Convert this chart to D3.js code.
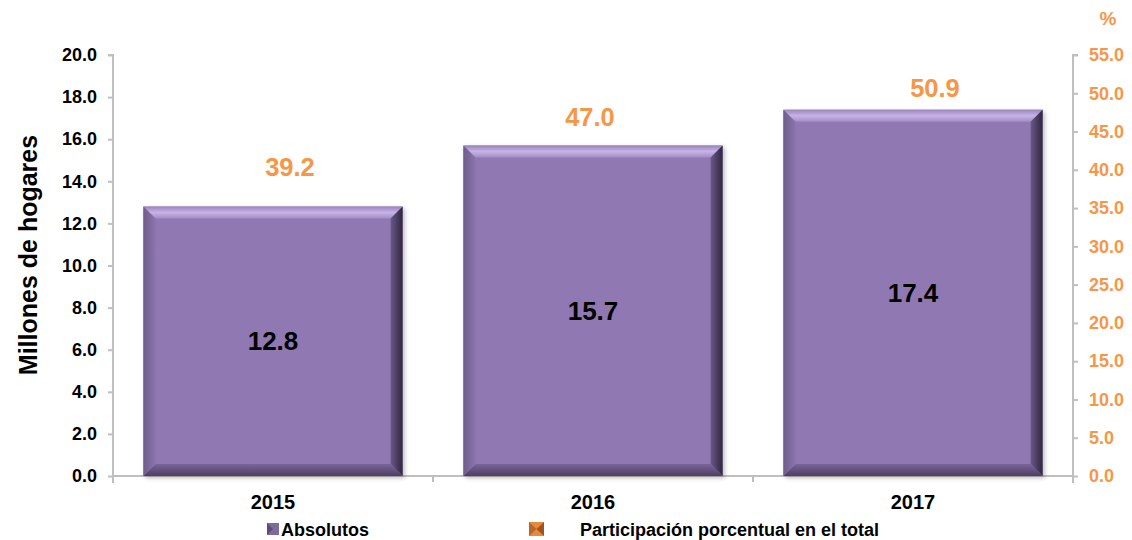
<!DOCTYPE html>
<html><head><meta charset="utf-8">
<script src="https://cdn.jsdelivr.net/npm/d3@7"></script>
<style>body{margin:0;background:#fff;} svg{display:block;font-family:Arial,"Liberation Sans",sans-serif;}</style>
</head><body>
<svg id="c" width="1132" height="540"></svg>
<script>
const years = ["2015","2016","2017"];
const absolutos = [12.8, 15.7, 17.4];
const participacion = [39.2, 47.0, 50.9];
const leftTicks = [0,2,4,6,8,10,12,14,16,18,20];
const rightTicks = [0,5,10,15,20,25,30,35,40,45,50,55];
// label nudges (layout only)
const pctLabelDx = [17, -3, 22];
const pctLabelDy = [0, 10, 11];

const svg = d3.select("#c");
const L = 113, R = 1073, T = 55, B = 476;
const orange = "#F79646";
const FF = "Arial,'Liberation Sans',sans-serif";
const x = d3.scaleBand().domain(years).range([L, R]).paddingInner(0.19).paddingOuter(0.095);
const xb = d3.scaleBand().domain(years).range([L, R]);
const y = d3.scaleLinear().domain([0, 20]).range([B, T]);
const y2 = d3.scaleLinear().domain([0, 55]).range([B, T]);

const defs = svg.append("defs");
const gR = defs.append("linearGradient").attr("id","gr").attr("x1","0").attr("x2","1");
gR.append("stop").attr("offset","0").attr("stop-color","#6c5888");
gR.append("stop").attr("offset","1").attr("stop-color","#2f2540");
const gT = defs.append("linearGradient").attr("id","gt").attr("x1","0").attr("x2","0").attr("y1","0").attr("y2","1");
gT.append("stop").attr("offset","0").attr("stop-color","#9a84bd");
gT.append("stop").attr("offset","0.5").attr("stop-color","#c7b3e6");
gT.append("stop").attr("offset","1").attr("stop-color","#a28cc6");
const gB = defs.append("linearGradient").attr("id","gb").attr("x1","0").attr("x2","0").attr("y1","0").attr("y2","1");
gB.append("stop").attr("offset","0").attr("stop-color","#7a6599");
gB.append("stop").attr("offset","1").attr("stop-color","#4e3f63");
const gL = defs.append("linearGradient").attr("id","gl").attr("x1","0").attr("x2","1");
gL.append("stop").attr("offset","0").attr("stop-color","#6f5c8c");
gL.append("stop").attr("offset","1").attr("stop-color","#8a74ad");
const sh = defs.append("filter").attr("id","sh").attr("x","-10%").attr("y","-10%").attr("width","130%").attr("height","130%");
sh.append("feDropShadow").attr("dx",2).attr("dy",2).attr("stdDeviation",2).attr("flood-color","#000").attr("flood-opacity",0.25);

// axes
const gray = "#BFBFBF";
const la = svg.append("g").attr("transform",`translate(${L},0)`)
  .call(d3.axisLeft(y).tickValues(leftTicks).tickFormat(d3.format(".1f")).tickSize(5).tickPadding(11));
la.attr("font-size",null).attr("font-family",null);
la.select(".domain").attr("stroke",gray).attr("stroke-width",2).attr("d",`M-5,${T}H0V${B+7}`);
la.selectAll(".tick line").attr("stroke",gray).attr("stroke-width",2);
la.selectAll(".tick text").style("font-size","18px").style("font-weight","bold").attr("fill","#000").style("font-family",FF);

const ra = svg.append("g").attr("transform",`translate(${R},0)`)
  .call(d3.axisRight(y2).tickValues(rightTicks).tickFormat(d3.format(".1f")).tickSize(5).tickPadding(11));
ra.attr("font-size",null).attr("font-family",null);
ra.select(".domain").attr("stroke",gray).attr("stroke-width",2).attr("d",`M5,${T}H0V${B+7}`);
ra.selectAll(".tick line").attr("stroke",gray).attr("stroke-width",2);
ra.selectAll(".tick text").style("font-size","18px").style("font-weight","bold").attr("fill",orange).style("font-family",FF);

// bottom axis
svg.append("line").attr("x1",L).attr("x2",R).attr("y1",B).attr("y2",B).attr("stroke",gray).attr("stroke-width",2);
svg.selectAll(".xt").data(years.slice(1)).enter().append("line")
  .attr("x1",d=>xb(d)).attr("x2",d=>xb(d)).attr("y1",B).attr("y2",B+6).attr("stroke",gray).attr("stroke-width",2);
svg.selectAll(".xl").data(years).enter().append("text")
  .attr("x",d=>xb(d)+xb.bandwidth()/2).attr("y",B+33).attr("text-anchor","middle")
  .style("font-size","20px").style("font-weight","bold").text(d=>d);

// bars with bevel
const bw = 12;
const bars = svg.selectAll(".bar").data(years.map((d,i)=>({y:d,v:absolutos[i]}))).enter().append("g").attr("filter","url(#sh)");
bars.each(function(d){
  const g = d3.select(this);
  const x0 = x(d.y), x1 = x0 + x.bandwidth(), y0 = y(d.v), y1 = y(0);
  g.append("rect").attr("x",x0).attr("y",y0).attr("width",x1-x0).attr("height",y1-y0).attr("fill","#9079B2");
  g.append("path").attr("d",`M${x0},${y0}L${x1},${y0}L${x1-bw},${y0+bw}L${x0+bw},${y0+bw}Z`).attr("fill","url(#gt)");
  g.append("path").attr("d",`M${x1},${y0}L${x1},${y1}L${x1-bw},${y1-bw}L${x1-bw},${y0+bw}Z`).attr("fill","url(#gr)");
  g.append("path").attr("d",`M${x0},${y1}L${x1},${y1}L${x1-bw},${y1-bw}L${x0+bw},${y1-bw}Z`).attr("fill","url(#gb)");
  g.append("path").attr("d",`M${x0},${y0}L${x0+bw},${y0+bw}L${x0+bw},${y1-bw}L${x0},${y1}Z`).attr("fill","url(#gl)");
});
svg.selectAll(".vl").data(absolutos).enter().append("text")
  .attr("x",(d,i)=>x(years[i])+x.bandwidth()/2).attr("y",d=>(y(d)+y(0))/2+9).attr("text-anchor","middle")
  .style("font-size","26px").style("font-weight","bold").attr("fill","#000").text(d=>d.toFixed(1));
svg.selectAll(".pl").data(participacion).enter().append("text")
  .attr("x",(d,i)=>x(years[i])+x.bandwidth()/2+pctLabelDx[i]).attr("y",(d,i)=>y2(d)+pctLabelDy[i]).attr("text-anchor","middle")
  .style("font-size","25.5px").style("font-weight","bold").attr("fill",orange).text(d=>d.toFixed(1));

// titles
svg.append("text").attr("transform","translate(37,255) rotate(-90)").attr("text-anchor","middle")
  .style("font-size","25px").style("font-weight","bold").text("Millones de hogares");
svg.append("text").attr("x",1108).attr("y",25).attr("text-anchor","middle").style("font-size","19px").style("font-weight","bold").attr("fill",orange).text("%");

// legend
const lg = svg.append("g");
lg.append("rect").attr("x",267).attr("y",523).attr("width",12).attr("height",12).attr("fill","#7f6a9e");
lg.append("path").attr("d","M267,523L273,529L267,535Z").attr("fill","#5e4c78");
lg.append("text").attr("x",281).attr("y",536).style("font-size","18px").style("font-weight","bold").text("Absolutos");
lg.append("rect").attr("x",529).attr("y",522).attr("width",15).attr("height",14).attr("fill","#E88A3C");
lg.append("path").attr("d","M529,522L536.5,529L529,536Z").attr("fill","#b8662a");
lg.append("path").attr("d","M544,522L536.5,529L544,536Z").attr("fill","#a05420");
lg.append("text").attr("x",580).attr("y",536).style("font-size","18px").style("font-weight","bold").text("Participación porcentual en el total");
</script>
</body></html>
